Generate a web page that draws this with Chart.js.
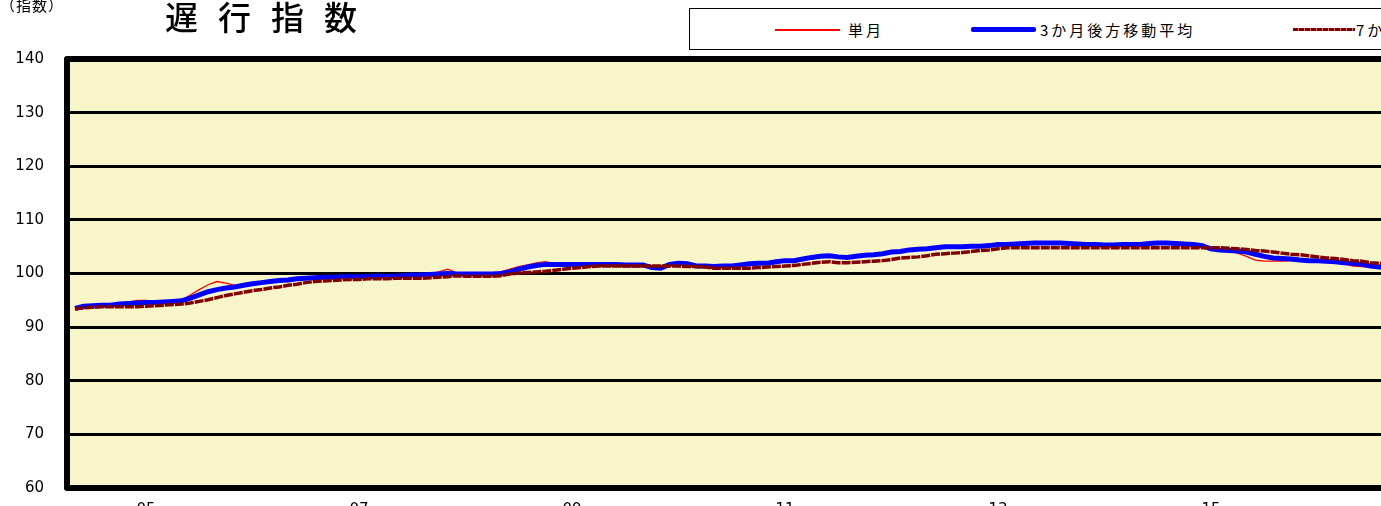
<!DOCTYPE html>
<html lang="ja">
<head>
<meta charset="utf-8">
<title>遅行指数</title>
<script src="https://cdn.jsdelivr.net/npm/chart.js@4.4.1/dist/chart.umd.min.js"></script>
<style>
html, body { margin: 0; padding: 0; background: #fff; width: 1381px; height: 506px; overflow: hidden; }
#wrap { position: relative; width: 1381px; height: 506px; overflow: hidden; }
#chart { position: absolute; left: 0; top: 0; }
.txt { position: absolute; font-family: "Noto Sans CJK JP", sans-serif; color: #000; white-space: nowrap; line-height: 1; }
#title { left: 165px; top: 0px; font-size: 33px; letter-spacing: 20px; font-weight: 500; }
#unit { left: 0px; top: -3px; font-size: 15px; letter-spacing: 1px; }
#legend { position: absolute; left: 689px; top: 8px; width: 760px; height: 40px; border: 1px solid #000; background: #fff; }
.sw { position: absolute; }
.lg { font-size: 15px; letter-spacing: 3px; top: 13px; }
</style>
</head>
<body>
<div id="wrap">
  <canvas id="chart" width="1460" height="540"></canvas>
  <div class="txt" id="unit">（指数）</div>
  <div class="txt" id="title">遅行指数</div>
  <div id="legend">
    <div class="sw" style="left:85px; top:20px; width:65px; height:2px; background:#ff0000;"></div>
    <div class="txt lg" style="left:158px;">単月</div>
    <div class="sw" style="left:281px; top:18px; width:65px; height:5px; background:#0000ff; border-radius:2px;"></div>
    <div class="txt lg" style="left:350px;">3か月後方移動平均</div>
    <div class="sw" style="left:603px; top:19px; width:62px; height:3px; background:repeating-linear-gradient(90deg,#800000 0 5px,#c08080 5px 6px);"></div>
    <div class="txt lg" style="left:666px;">7か月後方移動平均</div>
  </div>
</div>
<script>
/* data: monthly values */

const singleMonth = [
93.5,94.0,94.1,94.0,94.2,94.3,94.6,95.0,95.0,94.6,
94.5,94.8,95.0,96.0,97.0,97.9,98.5,98.2,97.8,98.0,
98.3,98.5,98.7,98.8,99.0,99.1,99.2,99.3,99.3,99.4,
99.4,99.5,99.4,99.5,99.5,99.6,99.7,99.9,100.0,99.8,
99.9,100.3,100.8,100.1,99.8,99.9,99.9,100.0,100.3,100.8,
101.3,101.6,102.0,102.2,101.8,101.7,101.6,101.8,101.7,101.6,
101.8,101.7,101.6,101.5,101.6,100.9,100.8,101.8,102.0,101.7,
101.3,101.4,101.2,101.4,101.5,101.7,101.9,101.9,102.0,102.4,
102.6,102.6,102.9,103.1,103.4,103.3,103.0,103.0,103.3,103.6,
103.6,103.8,104.2,104.3,104.6,104.6,104.7,104.9,105.1,105.0,
105.0,105.2,105.2,105.3,105.4,105.5,105.6,105.7,105.7,105.7,
105.6,105.7,105.5,105.4,105.4,105.3,105.3,105.3,105.4,105.4,
105.5,105.6,105.7,105.6,105.5,105.4,105.3,105.0,104.5,104.3,
104.2,103.8,103.2,102.5,102.3,102.3,102.3,102.4,102.5,102.4,
102.3,102.2,102.0,101.8,101.4,101.3,101.2,101.0,100.9
];

const avg3 = [
93.5,93.9,94.0,94.1,94.1,94.3,94.4,94.5,94.6,94.6,
94.7,94.8,94.9,95.4,96.0,96.6,97.0,97.3,97.5,97.8,
98.1,98.3,98.5,98.7,98.8,99.0,99.1,99.2,99.3,99.3,
99.4,99.4,99.4,99.4,99.5,99.5,99.5,99.6,99.7,99.7,
99.8,99.9,100.0,99.9,99.9,99.9,99.9,99.9,100.0,100.3,
100.8,101.2,101.5,101.7,101.7,101.7,101.7,101.7,101.7,101.7,
101.7,101.7,101.6,101.6,101.6,101.1,101.0,101.7,101.9,101.8,
101.4,101.4,101.3,101.4,101.4,101.6,101.8,101.9,101.9,102.2,
102.4,102.4,102.7,103.0,103.2,103.3,103.1,103.0,103.2,103.4,
103.5,103.7,104.0,104.1,104.4,104.5,104.6,104.8,105.0,105.0,
105.0,105.1,105.1,105.2,105.4,105.4,105.5,105.6,105.7,105.7,
105.7,105.7,105.6,105.5,105.4,105.4,105.3,105.3,105.4,105.4,
105.4,105.6,105.7,105.7,105.6,105.5,105.4,105.2,104.6,104.4,
104.3,104.2,104.0,103.6,103.2,102.9,102.8,102.7,102.5,102.4,
102.4,102.3,102.2,102.0,101.9,101.7,101.4,101.2,101.0
];

const avg7 = [
93.4,93.6,93.7,93.8,93.8,93.8,93.8,93.8,93.9,94.0,
94.1,94.2,94.3,94.5,94.8,95.1,95.5,95.9,96.2,96.5,
96.8,97.0,97.3,97.5,97.8,98.0,98.3,98.5,98.6,98.7,
98.8,98.9,98.9,99.0,99.0,99.0,99.1,99.1,99.1,99.1,
99.2,99.3,99.4,99.6,99.5,99.5,99.5,99.5,99.6,99.9,
100.1,100.2,100.3,100.4,100.6,100.8,101.0,101.1,101.3,101.4,
101.4,101.4,101.4,101.4,101.4,101.4,101.4,101.4,101.4,101.3,
101.3,101.2,101.0,101.0,101.0,101.0,101.0,101.1,101.2,101.3,
101.4,101.5,101.7,101.9,102.1,102.2,102.0,102.0,102.1,102.2,
102.3,102.4,102.6,102.9,103.0,103.1,103.3,103.6,103.7,103.8,
103.9,104.1,104.3,104.4,104.6,104.8,104.8,104.8,104.8,104.8,
104.8,104.8,104.8,104.8,104.8,104.8,104.8,104.8,104.8,104.8,
104.8,104.8,104.8,104.8,104.8,104.8,104.8,104.8,104.8,104.8,
104.7,104.6,104.5,104.3,104.2,104.0,103.8,103.6,103.5,103.3,
103.1,102.9,102.8,102.6,102.4,102.3,102.0,101.9,101.7
];

// month index of every point
const months = singleMonth.map((v, i) => i);

// x-axis labels and where they sit (month index)
const xTickPos = [8, 32, 56, 80, 104, 128];
const xTickText = ['05', '07', '09', '11', '13', '15'];

const yTicks = [60, 70, 80, 90, 100, 110, 120, 130, 140];

/* plot background + thick frame */
const plotFrame = {
  id: 'plotFrame',
  beforeDraw(chart) {
    const { ctx, chartArea: a } = chart;
    ctx.save();
    ctx.fillStyle = '#F8F6C8';
    ctx.fillRect(a.left, a.top, a.right - a.left, a.bottom - a.top);
    ctx.restore();
  },
  beforeDatasetsDraw(chart) {
    const { ctx, chartArea: a } = chart;
    ctx.save();
    ctx.strokeStyle = '#000';
    ctx.lineWidth = 6;
    ctx.lineJoin = 'round';
    ctx.beginPath();
    ctx.moveTo(a.right + 10, a.top);
    ctx.lineTo(a.left, a.top);
    ctx.lineTo(a.left, a.bottom);
    ctx.lineTo(a.right + 10, a.bottom);
    ctx.stroke();
    ctx.restore();
  }
};

const ctx = document.getElementById('chart');

new Chart(ctx, {
  type: 'line',
  data: {
    labels: months,
    datasets: [
      {
        label: '単月',
        data: singleMonth,
        borderColor: '#ff0000',
        borderWidth: 1.3,
        pointRadius: 0,
        order: 3
      },
      {
        label: '3か月後方移動平均',
        data: avg3,
        borderColor: '#0000ff',
        borderWidth: 5,
        pointRadius: 0,
        order: 2
      },
      {
        label: '7か月後方移動平均',
        data: avg7,
        borderColor: '#800000',
        borderWidth: 3.5,
        borderDash: [9, 1],
        pointRadius: 0,
        order: 1
      }
    ]
  },
  options: {
    responsive: false,
    animation: false,
    devicePixelRatio: 1,
    layout: { padding: { left: 0, top: 59, right: 0, bottom: 0 } },
    plugins: {
      legend: { display: false },
      tooltip: { enabled: false }
    },
    scales: {
      x: {
        type: 'linear',
        min: -0.9,
        max: (1460 - 75) / 8.875,
        grid: { drawOnChartArea: false, drawTicks: false, display: false },
        border: { display: false },
        afterFit(scale) { scale.height = 540 - 488; },
        afterBuildTicks(scale) {
          scale.ticks = xTickPos.map(v => ({ value: v }));
        },
        ticks: {
          autoSkip: false,
          maxRotation: 0,
          padding: 13,
          color: '#000',
          font: { family: 'DejaVu Sans', size: 15 },
          callback: (v) => xTickText[xTickPos.indexOf(v)]
        }
      },
      y: {
        min: 60,
        max: 140,
        afterFit(scale) { scale.width = 67; },
        afterBuildTicks(scale) {
          scale.ticks = yTicks.map(v => ({ value: v }));
        },
        grid: { color: '#000', lineWidth: 3, drawTicks: false },
        border: { display: false },
        ticks: {
          padding: 23,
          color: '#000',
          font: { family: 'DejaVu Sans', size: 15 }
        }
      }
    }
  },
  plugins: [plotFrame]
});
</script>
</body>
</html>
